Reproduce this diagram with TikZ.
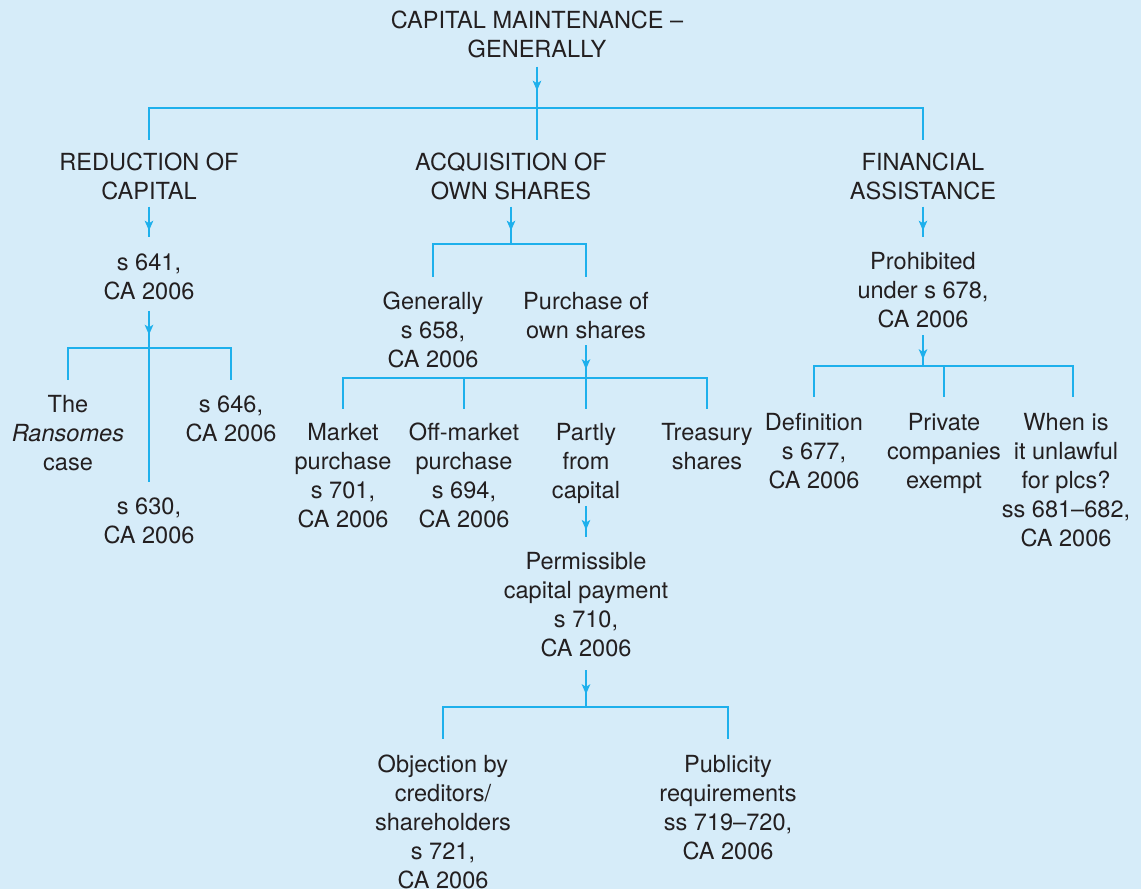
\documentclass[tikz,border=0pt]{standalone}
\usepackage{fontspec}
\setmainfont{TeX Gyre Heros}
\usepackage{tikz}
\usetikzlibrary{positioning, arrows.meta, decorations.markings}
\definecolor{paper}{RGB}{214,236,249}
\definecolor{wire}{RGB}{30,176,236}
\definecolor{ink}{RGB}{35,31,32}

\begin{document}
\begin{tikzpicture}[
  leaf/.style={anchor=north, align=center, inner sep=0pt, text=ink,
               font=\fontsize{13.4}{16.5}\selectfont},
  link/.style={wire, line width=1pt},
  stem/.style={link, postaction={decorate, decoration={markings,
               mark=at position 0.48cm with {\arrow{Stealth[length=0.2cm, width=0.17cm, inset=0.05cm]}}}}},
]
  \fill[paper] (0,0) rectangle (22.82,-17.78);
  \useasboundingbox (0,0) rectangle (22.82,-17.78);

  % bars of the tree
  \coordinate (topbar)   at (0,-2.16);
  \coordinate (acqbar)   at (0,-4.88);
  \coordinate (s641bar)  at (0,-6.96);
  \coordinate (purchbar) at (0,-7.56);
  \coordinate (prohbar)  at (0,-7.32);
  \coordinate (permbar)  at (0,-14.14);

  \node[leaf] (title) at (10.74,-0.22) {CAPITAL MAINTENANCE --\\GENERALLY};
  \node[leaf] (reduction)   at (2.98,-3.06)  {REDUCTION OF\\CAPITAL};
  \node[leaf] (acquisition) at (10.22,-3.06) {ACQUISITION OF\\OWN SHARES};
  \node[leaf] (financial)   at (18.46,-3.06) {FINANCIAL\\ASSISTANCE};

  % reduction of capital
  \node[leaf, below=2cm of reduction.north] (s641) {s 641,\\CA 2006};
  \node[leaf, below=2.84cm of s641.north, xshift=-1.62cm] (ransomes) {The\\\textit{Ransomes}\\case};
  \node[leaf, below=2.84cm of s641.north, xshift=1.64cm]  (s646) {s 646,\\CA 2006};
  \node[leaf, below=4.88cm of s641.north] (s630) {s 630,\\CA 2006};

  % acquisition of own shares
  \node[leaf, below=2.78cm of acquisition.north, xshift=-1.56cm] (generally) {Generally\\s 658,\\CA 2006};
  \node[leaf, below=2.78cm of acquisition.north, xshift=1.5cm]   (purchase) {Purchase of\\own shares};
  \node[leaf, below=2.62cm of purchase.north, xshift=-4.86cm] (market) {Market\\purchase\\s 701,\\CA 2006};
  \node[leaf, below=2.62cm of purchase.north, xshift=-2.44cm] (offmarket) {Off-market\\purchase\\s 694,\\CA 2006};
  \node[leaf, below=2.62cm of purchase.north] (partly) {Partly\\from\\capital};
  \node[leaf, below=2.62cm of purchase.north, xshift=2.42cm] (treasury) {Treasury\\shares};
  \node[leaf, below=2.58cm of partly.north] (permissible) {Permissible\\capital payment\\s 710,\\CA 2006};
  \node[leaf, below=4.06cm of permissible.north, xshift=-2.86cm] (objection) {Objection by\\creditors/\\shareholders\\s 721,\\CA 2006};
  \node[leaf, below=4.06cm of permissible.north, xshift=2.84cm]  (publicity) {Publicity\\requirements\\ss 719--720,\\CA 2006};

  % financial assistance
  \node[leaf, below=1.98cm of financial.north] (prohibited) {Prohibited\\under s 678,\\CA 2006};
  \node[leaf, below=3.22cm of prohibited.north, xshift=-2.18cm] (definition) {Definition\\s 677,\\CA 2006};
  \node[leaf, below=3.22cm of prohibited.north, xshift=0.42cm]  (private) {Private\\companies\\exempt};
  \node[leaf, below=3.22cm of prohibited.north, xshift=2.86cm]  (unlawful) {When is\\it unlawful\\for plcs?\\ss 681--682,\\CA 2006};

  % connectors
  \draw[stem] ([yshift=-0.16cm]title.south) -- (title.south |- topbar);
  \draw[link, shorten >=0.26cm] (title.south |- topbar) -- (title.south |- reduction.north);
  \foreach \kid in {reduction, financial}
    \draw[link, shorten >=0.26cm] (title.south |- topbar) -| (\kid.north);

  \draw[stem, shorten >=0.32cm] ([yshift=-0.12cm]reduction.south) -- (s641.north);
  \draw[stem, shorten >=0.3cm] ([yshift=-0.22cm]s641.south) -- (s630.north);
  \foreach \kid in {ransomes, s646}
    \draw[link, shorten >=0.3cm] (s641.south |- s641bar) -| (\kid.north);

  \draw[stem] ([yshift=-0.12cm]acquisition.south) -- (acquisition.south |- acqbar);
  \foreach \kid in {generally, purchase}
    \draw[link, shorten >=0.3cm] (acquisition.south |- acqbar) -| (\kid.north);
  \draw[stem] ([yshift=-0.12cm]purchase.south) -- (purchase.south |- purchbar);
  \foreach \kid in {market, offmarket, treasury}
    \draw[link, shorten >=0.28cm] (purchase.south |- purchbar) -| (\kid.north);
  \draw[link, shorten >=0.28cm] (purchase.south |- purchbar) -- (partly.north);
  \draw[stem, shorten >=0.3cm] ([yshift=-0.04cm]partly.south) -- (permissible.north);
  \draw[stem] ([yshift=-0.26cm]permissible.south) -- (permissible.south |- permbar);
  \foreach \kid in {objection, publicity}
    \draw[link, shorten >=0.32cm] (permissible.south |- permbar) -| (\kid.north);

  \draw[stem, shorten >=0.3cm] ([yshift=-0.12cm]financial.south) -- (prohibited.north);
  \draw[stem] ([yshift=-0.14cm]prohibited.south) -- (prohibited.south |- prohbar);
  \foreach \kid in {definition, private}
    \draw[link, shorten >=0.32cm] (prohibited.south |- prohbar) -| (\kid.north);
  \draw[link, shorten >=0.32cm] (prohibited.south |- prohbar) -| ([xshift=0.14cm]unlawful.north);
\end{tikzpicture}
\end{document}
